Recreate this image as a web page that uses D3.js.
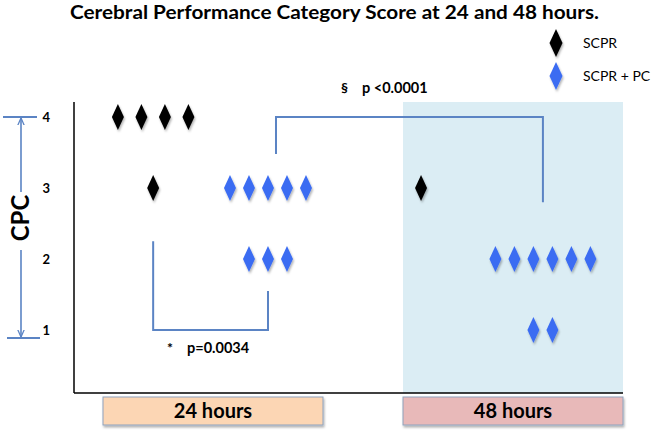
<!DOCTYPE html>
<html>
<head>
<meta charset="utf-8">
<script src="https://cdn.jsdelivr.net/npm/d3@7"></script>
<style>
  body { margin: 0; background: #fff; }
  text { font-family: Lato, "Open Sans", sans-serif; }
</style>
</head>
<body>
<div id="chart"></div>
<script>

// data
var times  = ["24 hours", "48 hours"];
var groups = ["SCPR", "SCPR + PC"];
var cpcTicks = [1, 2, 3, 4];

// CPC score of every patient, per group and time
var scpr24   = [4, 4, 4, 4, 3];
var scprPc24 = [3, 3, 3, 3, 3, 2, 2, 2];
var scpr48   = [3];
var scprPc48 = [2, 2, 2, 2, 2, 2, 1, 1];

var pText24 = ["*", "p=0.0034"];
var pText48 = ["\u00a7", "p <0.0001"];

var width = 651, height = 430;

var svg = d3.select("#chart")
  .append("svg")
  .attr("width", width)
  .attr("height", height);

var defs = svg.append("defs");
var shadow = defs.append("filter").attr("id", "shadow")
  .attr("x", "-50%").attr("y", "-50%").attr("width", "200%").attr("height", "200%");
shadow.append("feDropShadow")
  .attr("dx", 1).attr("dy", 2).attr("stdDeviation", 1)
  .attr("flood-color", "#000").attr("flood-opacity", 0.3);

var colors = { "SCPR": "#000000", "SCPR + PC": "#3b6cf2" };
var lineBlue = "#5b84c4";

// plot frame
var frameLeft = 74, frameTop = 102, frameBottom = 393, frameRight = 623;

// scales
var x = d3.scaleBand()
  .domain(times)
  .range([103, frameRight])
  .paddingInner(0.2667);

var y = d3.scaleLinear()
  .domain([1, 4])
  .range([330, 117]);

// where each group's column sits inside the time band, and dot spacing
var columnPos = {
  "24 hours": { "SCPR": 0.228, "SCPR + PC": 0.75 },
  "48 hours": { "SCPR": 0.082, "SCPR + PC": 0.636 }
};
var spacing = { "SCPR": 23.5, "SCPR + PC": 19 };

function colX(t, g) {
  return x(t) + x.bandwidth() * columnPos[t][g];
}

// title
svg.append("text")
  .attr("x", 70)
  .attr("y", 19)
  .attr("textLength", 529)
  .attr("lengthAdjust", "spacingAndGlyphs")
  .style("font-size", "19px")
  .style("font-weight", "bold")
  .text("Cerebral Performance Category Score at 24 and 48 hours.");

// shaded 48 hours area
svg.append("rect")
  .attr("x", x("48 hours"))
  .attr("y", frameTop)
  .attr("width", x.bandwidth())
  .attr("height", frameBottom - frameTop)
  .attr("fill", "#dbedf4");

// axes lines
svg.append("line")
  .attr("x1", frameLeft).attr("x2", frameLeft)
  .attr("y1", frameTop).attr("y2", frameBottom)
  .attr("stroke", "#000").attr("stroke-width", 1.5);
svg.append("line")
  .attr("x1", frameLeft).attr("x2", frameRight)
  .attr("y1", frameBottom).attr("y2", frameBottom)
  .attr("stroke", "#000").attr("stroke-width", 1.5);

// y tick labels
var y_axis = d3.axisLeft(y)
  .tickValues(cpcTicks)
  .tickSize(0)
  .tickPadding(24)
  .tickFormat(d3.format("d"));

var yg = svg.append("g")
  .attr("transform", "translate(" + frameLeft + ",0)")
  .call(y_axis);
yg.select(".domain").remove();
yg.selectAll("text")
  .style("font-family", "Lato, sans-serif")
  .style("font-size", "13px")
  .style("font-weight", "bold")
  .attr("fill", "#000");

// CPC arrows on the left
defs.append("marker")
  .attr("id", "arrow")
  .attr("viewBox", "0 0 10 10")
  .attr("refX", 9).attr("refY", 5)
  .attr("markerWidth", 5).attr("markerHeight", 5)
  .attr("orient", "auto")
  .append("path")
  .attr("d", "M0,1 L9,5 L0,9")
  .attr("fill", "none")
  .attr("stroke", lineBlue)
  .attr("stroke-width", 1.6);

var arrowX = 21;
svg.append("line")
  .attr("x1", 3).attr("x2", 37)
  .attr("y1", y(4)).attr("y2", y(4))
  .attr("stroke", lineBlue).attr("stroke-width", 2);
svg.append("line")
  .attr("x1", 7).attr("x2", 40)
  .attr("y1", y(1) + 8).attr("y2", y(1) + 8)
  .attr("stroke", lineBlue).attr("stroke-width", 2);
svg.append("line")
  .attr("x1", arrowX).attr("x2", arrowX)
  .attr("y1", 192).attr("y2", y(4) + 1)
  .attr("stroke", lineBlue).attr("stroke-width", 1.6)
  .attr("marker-end", "url(#arrow)");
svg.append("line")
  .attr("x1", arrowX).attr("x2", arrowX)
  .attr("y1", 250).attr("y2", y(1) + 7)
  .attr("stroke", lineBlue).attr("stroke-width", 1.6)
  .attr("marker-end", "url(#arrow)");

svg.append("text")
  .attr("transform", "translate(" + (arrowX + 8) + ",218) rotate(-90)")
  .attr("text-anchor", "middle")
  .style("font-size", "24px")
  .style("font-weight", "bold")
  .text("CPC");

// significance brackets
var b24 = d3.path();
b24.moveTo(colX("24 hours", "SCPR"), y(2.25));
b24.lineTo(colX("24 hours", "SCPR"), y(1));
b24.lineTo(colX("24 hours", "SCPR + PC"), y(1));
b24.lineTo(colX("24 hours", "SCPR + PC"), y(1.55));
svg.append("path")
  .attr("d", b24.toString())
  .attr("fill", "none")
  .attr("stroke", lineBlue)
  .attr("stroke-width", 2);

var b48 = d3.path();
b48.moveTo(colX("24 hours", "SCPR + PC") + 8, y(3.48));
b48.lineTo(colX("24 hours", "SCPR + PC") + 8, y(4));
b48.lineTo(colX("48 hours", "SCPR + PC"), y(4));
b48.lineTo(colX("48 hours", "SCPR + PC"), y(2.8));
svg.append("path")
  .attr("d", b48.toString())
  .attr("fill", "none")
  .attr("stroke", lineBlue)
  .attr("stroke-width", 2);

svg.append("text")
  .attr("x", 167).attr("y", 353)
  .style("font-size", "14px").style("font-weight", "bold")
  .text(pText24[0]);
svg.append("text")
  .attr("x", 187).attr("y", 353)
  .style("font-size", "14.5px").style("font-weight", "bold")
  .text(pText24[1]);

svg.append("text")
  .attr("x", 341).attr("y", 93)
  .style("font-size", "14px").style("font-weight", "bold")
  .text(pText48[0]);
svg.append("text")
  .attr("x", 362).attr("y", 93)
  .style("font-size", "14.5px").style("font-weight", "bold")
  .text(pText48[1]);

// build dots: each row of same score is centred on its column
function makeDots(scores, t, g) {
  var rows = d3.group(scores, s => s);
  var out = [];
  rows.forEach(function (vals, score) {
    var n = vals.length;
    vals.forEach(function (v, i) {
      out.push({
        time: t, group: g, cpc: score,
        cx: colX(t, g) + (i - (n - 1) / 2) * spacing[g]
      });
    });
  });
  return out;
}

var dots = [].concat(
  makeDots(scpr24, "24 hours", "SCPR"),
  makeDots(scprPc24, "24 hours", "SCPR + PC"),
  makeDots(scpr48, "48 hours", "SCPR"),
  makeDots(scprPc48, "48 hours", "SCPR + PC")
);

var diamond = "M0,-13L6,0L0,13L-6,0Z";

svg.append("g").selectAll("path")
  .data(dots)
  .enter().append("path")
  .attr("d", diamond)
  .attr("transform", d => "translate(" + d.cx + "," + y(d.cpc) + ")")
  .attr("fill", d => colors[d.group])
  .attr("filter", "url(#shadow)");

// legend
var legend = svg.append("g").selectAll("g")
  .data(groups)
  .enter().append("g")
  .attr("transform", (d, i) => "translate(556," + (43 + i * 33) + ")");

legend.append("path")
  .attr("d", "M0,-14L6.5,0L0,14L-6.5,0Z")
  .attr("fill", d => colors[d])
  .attr("filter", "url(#shadow)");
legend.append("text")
  .attr("x", 27)
  .attr("y", 5)
  .style("font-size", "14px")
  .text(d => d);

// time labels in boxes
var boxes = svg.append("g").selectAll("g")
  .data(times)
  .enter().append("g");

boxes.append("rect")
  .attr("x", d => x(d))
  .attr("y", 397)
  .attr("width", x.bandwidth())
  .attr("height", 28)
  .attr("fill", (d, i) => i == 0 ? "#fcd6b4" : "#e8b9b9")
  .attr("stroke", "#8fa2bd")
  .attr("stroke-width", 1)
  .attr("filter", "url(#shadow)");

boxes.append("text")
  .attr("x", d => x(d) + x.bandwidth() / 2)
  .attr("y", 418)
  .attr("text-anchor", "middle")
  .style("font-size", "20px")
  .style("font-weight", "bold")
  .text(d => d);

</script>
</body>
</html>
